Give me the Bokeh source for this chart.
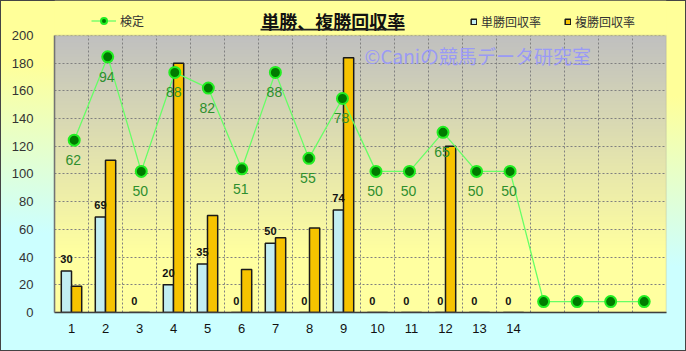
import numpy as np
from bokeh.plotting import figure
from bokeh.models import (Range1d, FixedTicker, Label, Legend, LegendItem, Arrow,
                          BoxAnnotation)
from bokeh.core.properties import value
from bokeh.embed import file_html
from bokeh.resources import INLINE

# ---- data ----
categories = [str(i) for i in range(1, 15)]
n_slots = 18
win_return = [30, 69, 0, 20, 35, 0, 50, 0, 74, 0, 0, 0, 0, 0]        # 単勝回収率
place_return = [19, 110, 0, 180, 70, 31, 54, 61, 184, 0, 0, 120, 0, 0]  # 複勝回収率
kentei = [62, 94, 50, 88, 82, 51, 88, 55, 78, 50, 50, 65, 50, 50, 0, 0, 0, 0]  # 検定
y_ticks = [0, 20, 40, 60, 80, 100, 120, 140, 160, 180, 200]

JP = "Noto Sans CJK JP"
NUM = "Liberation Sans"
Y_MAX = 200
Y_TOP = 225.27  # frame extends above the plot area to host title and legends

p = figure(width=686, height=351, x_range=Range1d(0, n_slots), y_range=Range1d(0, Y_TOP),
           output_backend="svg", toolbar_location=None,
           min_border_left=54, min_border_right=20, min_border_top=0, min_border_bottom=39)
p.extra_x_ranges = {"lx": Range1d(0.4125, 18.665)}
p.extra_y_ranges = {"ly": Range1d(-4.2, 115.64)}

p.background_fill_alpha = 0
p.border_fill_alpha = 0
p.outline_line_color = None
p.styles = {"background": "linear-gradient(183deg, #ffff99 25%, #ccffff 69%)",
            "outline": "1px solid #444", "outline-offset": "-1px"}

# plot-area gradient (gray top -> yellow bottom)
rows = 200
t = np.linspace(0, 1, rows)
f = np.clip((t - 0.22) / 0.78, 0, 1)
r = (255 + (192 - 255) * f).astype(np.uint32)
g = (255 + (192 - 255) * f).astype(np.uint32)
b = (160 + (192 - 160) * f).astype(np.uint32)
img = (255 << 24) | (b << 16) | (g << 8) | r
img = img.reshape(rows, 1).astype(np.uint32)
p.image_rgba(image=[img], x=0, y=0, dw=n_slots, dh=Y_MAX, level="image")

# ---- bars ----
xc = np.arange(len(categories)) + 0.5
bw = 0.3
r_win = p.vbar(x=xc - bw / 2, top=win_return, width=bw, fill_color="#c2eef2",
               line_color="#1a1a1a", line_width=1.5)
r_place = p.vbar(x=xc + bw / 2, top=place_return, width=bw, fill_color="#f7c300",
                 line_color="#1a1a1a", line_width=1.5)
p.text(x=xc - bw / 2, y=win_return, text=[str(v) for v in win_return],
       text_align="center", text_baseline="middle", y_offset=-12,
       text_font=value(NUM), text_font_size="11px", text_font_style="bold",
       text_color="#111111")

# ---- line (secondary axes) ----
lx = np.arange(1, n_slots + 1)
r_line = p.line(x=lx, y=kentei, x_range_name="lx", y_range_name="ly",
                line_color="#66ff66", line_width=1.3)
r_pts = p.scatter(x=lx, y=kentei, x_range_name="lx", y_range_name="ly",
                  size=11, fill_color="#007a00", line_color="#22ee22", line_width=2)
p.text(x=lx[:len(categories)], y=kentei[:len(categories)],
       text=[str(v) for v in kentei[:len(categories)]],
       x_range_name="lx", y_range_name="ly", text_align="center",
       text_baseline="middle", y_offset=20, x_offset=-1,
       text_font=value(NUM), text_font_size="14px", text_color="#2e8f2e")

# ---- axes / grid ----
p.xaxis.ticker = FixedTicker(ticks=list(xc))
p.xaxis.major_label_overrides = {float(x): c for x, c in zip(xc, categories)}
p.yaxis.ticker = FixedTicker(ticks=y_ticks)
p.yaxis.bounds = (0, Y_MAX)
for ax in (p.xaxis[0], p.yaxis[0]):
    ax.major_tick_line_color = None
    ax.minor_tick_line_color = None
    ax.major_label_text_font = NUM
    ax.major_label_text_font_size = "13px"
p.yaxis.major_label_standoff = 15
p.yaxis.major_label_text_color = "#333333"
p.yaxis.axis_line_color = "#707070"
p.yaxis.axis_line_width = 1.5
p.xaxis.major_label_standoff = 5
p.xaxis.major_label_text_color = "#111111"
p.xaxis.axis_line_color = "#333333"
p.xaxis.axis_line_width = 1.5

p.xgrid.ticker = FixedTicker(ticks=list(range(n_slots + 1)))
p.ygrid.ticker = FixedTicker(ticks=y_ticks)
for gr in (p.xgrid[0], p.ygrid[0]):
    gr.grid_line_color = "#808080"
    gr.grid_line_dash = "2 2"
    gr.grid_line_width = 1

# cover the strip above the plot area (hosts title / legends) and draw plot border
p.add_layout(BoxAnnotation(bottom=Y_MAX, fill_color="#ffff99", fill_alpha=1,
                           line_alpha=0))
p.add_layout(BoxAnnotation(left=0, right=n_slots, bottom=0, top=Y_MAX, fill_alpha=0,
                           line_color="#888888", line_width=1.5))

# ---- title, watermark ----
p.add_layout(Label(x=8.2, y=210.3, text="単勝、複勝回収率", text_align="center",
                   text_baseline="middle", text_font=JP, text_font_size="18px",
                   text_font_style="bold", text_color="#111111"))
p.add_layout(Arrow(end=None, x_start=6.06, y_start=204.2, x_end=10.3, y_end=204.2,
                   line_color="#222222", line_width=1.8))
p.add_layout(Label(x=9.12, y=185.6, text="©Caniの競馬データ研究室", text_align="left",
                   text_baseline="middle", text_font=JP, text_font_size="19px",
                   text_color="#9a9af5"))

# ---- legends ----
leg1 = Legend(items=[LegendItem(label="検定", renderers=[r_line, r_pts])],
              location=(37, 283), orientation="horizontal", padding=0, margin=0,
              glyph_width=25, glyph_height=15, label_standoff=4,
              label_text_font=JP, label_text_font_size="12px", label_text_color="#333333",
              border_line_alpha=0, background_fill_alpha=0)
leg2 = Legend(items=[LegendItem(label="単勝回収率", renderers=[r_win]),
                     LegendItem(label="複勝回収率", renderers=[r_place])],
              location=(416, 282), orientation="horizontal", padding=0, margin=0,
              glyph_width=7, glyph_height=7, label_standoff=4, spacing=23,
              label_text_font=JP, label_text_font_size="12px", label_text_color="#333333",
              border_line_alpha=0, background_fill_alpha=0)
p.add_layout(leg1)
p.add_layout(leg2)

open("out.html", "w").write(file_html(p, INLINE))
